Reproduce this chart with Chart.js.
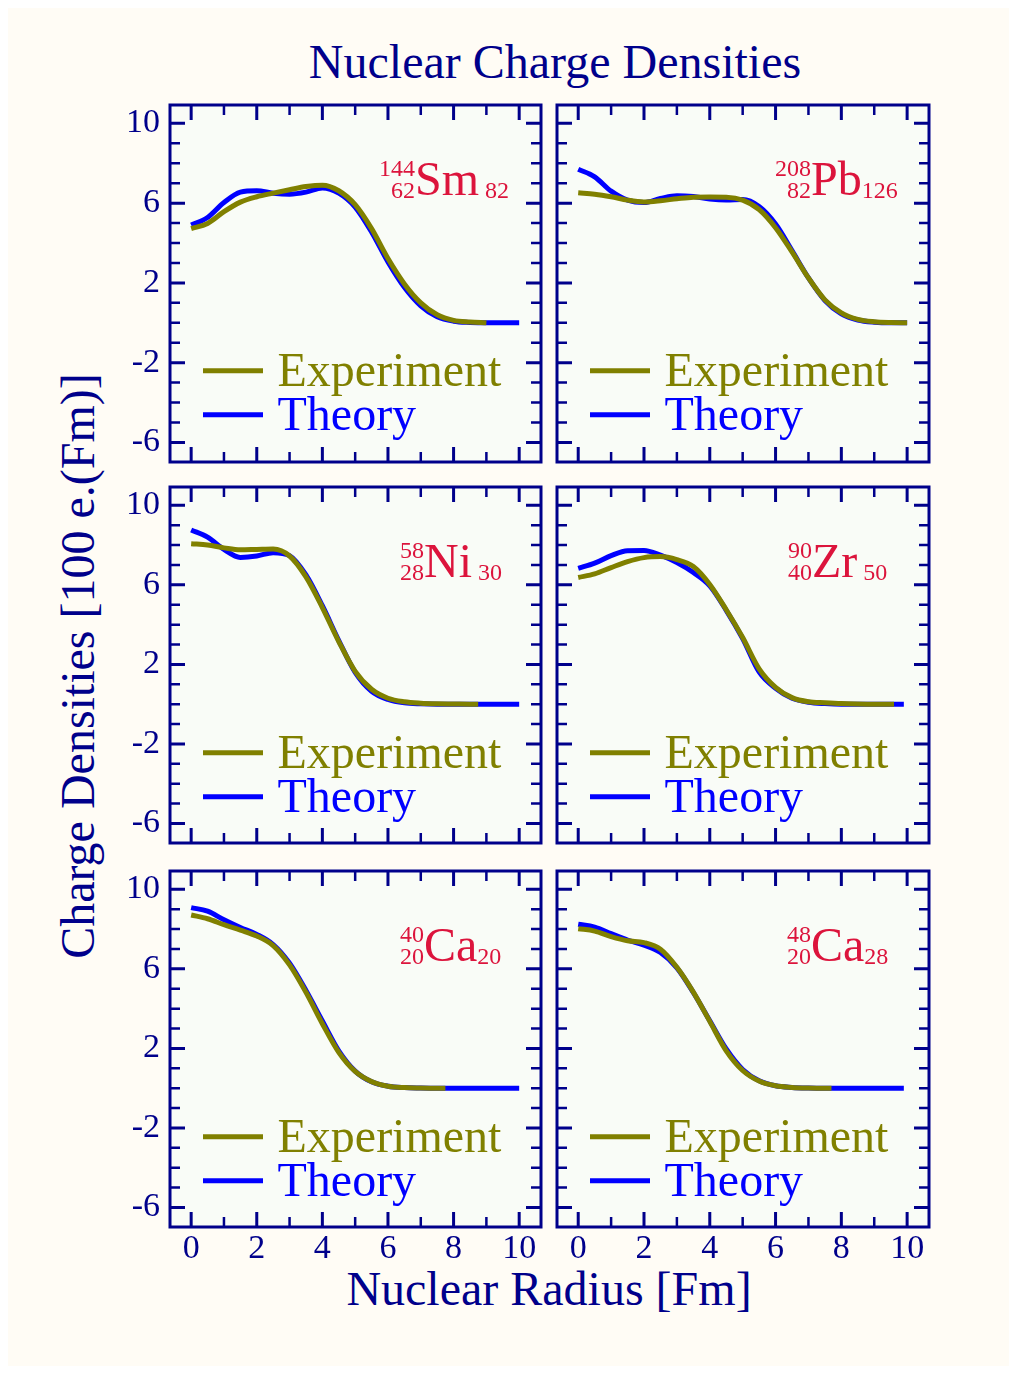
<!DOCTYPE html>
<html>
<head>
<meta charset="utf-8">
<title>Nuclear Charge Densities</title>
<script src="https://cdn.jsdelivr.net/npm/chart.js@4.4.0/dist/chart.umd.min.js"></script>
<style>
  html, body { margin: 0; padding: 0; background: #ffffff; }
  #page { position: relative; width: 1017px; height: 1374px; overflow: hidden;
          font-family: 'Liberation Serif', 'Times New Roman', serif; color: #00008b; }
  #paper { position: absolute; left: 8px; top: 8px; width: 1001px; height: 1358px; background: #fffcf5; }
  .caption { position: absolute; font-size: 48px; line-height: 48px; white-space: nowrap; }
  #mainTitle { left: 555px; top: 38px; transform: translateX(-50%); }
  #xTitle { left: 549px; top: 1265px; transform: translateX(-50%); }
  #yTitle { left: 78px; top: 666px; transform: translate(-50%, -50%) rotate(-90deg); }
  canvas { position: absolute; }
</style>
</head>
<body>
<div id="page">
  <div id="paper"></div>
  <div class="caption" id="mainTitle">Nuclear Charge Densities</div>
  <div class="caption" id="xTitle">Nuclear Radius [Fm]</div>
  <div class="caption" id="yTitle">Charge Densities [100 e.(Fm)]</div>
</div>
<script>
// Radius grid in Fm, shared by all curves
var radius = [0, 0.5, 1, 1.5, 2, 2.5, 3, 3.5, 4, 4.5, 5, 5.5, 6, 6.5, 7, 7.5, 8, 8.5, 9, 9.5, 10];

var massNumbers = ['144', '208', '58', '90', '40', '48'];
var protonNumbers = ['62', '82', '28', '40', '20', '20'];
var symbols = ['Sm', 'Pb', 'Ni', 'Zr', 'Ca', 'Ca'];
var neutronNumbers = [' 82', '126', ' 30', ' 50', '20', '28'];

var seriesNames = ['Experiment', 'Theory'];
var xTickLabels = [0, 2, 4, 6, 8, 10];
var yTickLabels = [-6, -2, 2, 6, 10];

// last radius of each curve (the last value of each array sits there)
var experimentEnd = [9.0, 10, 8.75, 9.6, 7.75, 7.7];
var theoryEnd = [10, 10, 10, 9.9, 10, 9.9];

var smExperiment = [4.72, 4.98, 5.57, 6.05, 6.32, 6.5, 6.67, 6.83, 6.9, 6.62, 5.92, 4.72, 3.22, 1.95, 1.0, 0.4, 0.12, 0.04, 0];
var smTheory = [4.9, 5.28, 6.03, 6.55, 6.62, 6.5, 6.45, 6.55, 6.76, 6.5, 5.8, 4.55, 3.05, 1.78, 0.85, 0.3, 0.08, 0.02, 0, 0, 0];

var pbExperiment = [6.52, 6.45, 6.32, 6.15, 6.06, 6.12, 6.22, 6.3, 6.31, 6.3, 6.15, 5.68, 4.77, 3.55, 2.25, 1.15, 0.5, 0.17, 0.05, 0.01, 0];
var pbTheory = [7.7, 7.32, 6.6, 6.15, 6.03, 6.23, 6.37, 6.33, 6.21, 6.16, 6.18, 5.83, 4.95, 3.62, 2.25, 1.12, 0.45, 0.14, 0.03, 0, 0];

var niExperiment = [8.07, 8.0, 7.86, 7.76, 7.78, 7.8, 7.45, 6.4, 4.86, 3.15, 1.65, 0.75, 0.3, 0.12, 0.05, 0.02, 0.01, 0, 0];
var niTheory = [8.76, 8.4, 7.78, 7.38, 7.45, 7.62, 7.47, 6.5, 4.95, 3.2, 1.6, 0.65, 0.24, 0.07, 0.02, 0, 0, 0, 0, 0, 0];

var zrExperiment = [6.37, 6.55, 6.87, 7.17, 7.37, 7.42, 7.27, 6.92, 6.02, 4.75, 3.35, 1.78, 0.85, 0.33, 0.12, 0.07, 0.03, 0.01, 0, 0, 0];
var zrTheory = [6.83, 7.09, 7.47, 7.72, 7.73, 7.49, 7.12, 6.62, 5.95, 4.72, 3.3, 1.62, 0.8, 0.3, 0.1, 0.03, 0, 0, 0, 0, 0];

var ca40Experiment = [8.71, 8.52, 8.22, 7.95, 7.65, 7.17, 6.2, 4.82, 3.24, 1.8, 0.84, 0.33, 0.1, 0.03, 0.01, 0, 0];
var ca40Theory = [9.08, 8.9, 8.47, 8.08, 7.73, 7.22, 6.28, 4.91, 3.38, 1.88, 0.86, 0.32, 0.1, 0.03, 0.01, 0, 0, 0, 0, 0, 0];

var ca48Experiment = [8.02, 7.9, 7.62, 7.41, 7.32, 6.99, 6.08, 4.83, 3.36, 1.88, 0.89, 0.36, 0.12, 0.04, 0.01, 0, 0];
var ca48Theory = [8.24, 8.1, 7.77, 7.45, 7.19, 6.82, 6.05, 4.81, 3.39, 1.97, 0.94, 0.37, 0.12, 0.04, 0.01, 0, 0, 0, 0, 0, 0];

var experiment = [smExperiment, pbExperiment, niExperiment, zrExperiment, ca40Experiment, ca48Experiment];
var theory = [smTheory, pbTheory, niTheory, zrTheory, ca40Theory, ca48Theory];

// Layout (pixels on the page)
var NAVY = '#00008b';
var PLOT_BG = '#f9fcf7';
var LABEL_RED = '#dc143c';
var EXP_COLOR = '#808000';
var TH_COLOR = '#0000ff';
var FONT = "'Liberation Serif', 'Times New Roman', serif";

var colLeft = [170, 557];
var colWidth = [371, 372];
var rowTop = [105, 487, 871];
var rowHeight = [357, 356, 356];
var labelOffset = [245, 254, 254, 255, 254, 254];

// generous top/right padding so tick labels never push the plot area
var AXIS_W = 62, AXIS_H = 50, PAD_T = 44, PAD_R = 24, PAD_B = 4;

Chart.defaults.font.family = FONT;

function toPoints(values, end) {
    var pts = [];
    for (var i = 0; i < values.length - 1; i++) {
        pts.push({x: radius[i], y: values[i]});
    }
    pts.push({x: end, y: values[values.length - 1]});
    return pts;
}

var decorations = {
    id: 'decorations',
    beforeDatasetsDraw: function(chart) {
        var a = chart.chartArea, ctx = chart.ctx;
        ctx.save();
        ctx.fillStyle = PLOT_BG;
        ctx.fillRect(a.left, a.top, a.right - a.left, a.bottom - a.top);
        ctx.restore();
    },
    afterDatasetsDraw: function(chart, args, opts) {
        var a = chart.chartArea, ctx = chart.ctx;
        var i = opts.index;
        var xs = chart.scales.x, ys = chart.scales.y;
        ctx.save();

        // legend
        var colors = [EXP_COLOR, TH_COLOR];
        var lineY = [265.7, 309.7], textY = [281, 325];
        for (var k = 0; k < 2; k++) {
            ctx.strokeStyle = colors[k];
            ctx.lineWidth = 5;
            ctx.beginPath();
            ctx.moveTo(a.left + 33, a.top + lineY[k]);
            ctx.lineTo(a.left + 93, a.top + lineY[k]);
            ctx.stroke();
            ctx.fillStyle = colors[k];
            ctx.font = '48px ' + FONT;
            ctx.textAlign = 'left';
            ctx.textBaseline = 'alphabetic';
            ctx.fillText(seriesNames[k], a.left + 107.5, a.top + textY[k]);
        }

        // nucleus label
        var x0 = a.left + labelOffset[i];
        ctx.fillStyle = LABEL_RED;
        ctx.font = '24px ' + FONT;
        ctx.textAlign = 'right';
        ctx.fillText(massNumbers[i], x0, a.top + 70.5);
        ctx.fillText(protonNumbers[i], x0, a.top + 93);
        ctx.font = '48px ' + FONT;
        ctx.textAlign = 'left';
        ctx.fillText(symbols[i], x0, a.top + 90);
        var w = ctx.measureText(symbols[i]).width;
        ctx.font = '24px ' + FONT;
        ctx.fillText(neutronNumbers[i], x0 + w, a.top + 93);

        // tick marks on all four sides, pointing in
        ctx.strokeStyle = NAVY;
        var v, p, len;
        for (v = -6; v <= 10; v++) {
            p = ys.getPixelForValue(v);
            len = yTickLabels.indexOf(v) >= 0 ? 15 : 10;
            ctx.lineWidth = yTickLabels.indexOf(v) >= 0 ? 3 : 2.5;
            ctx.beginPath();
            ctx.moveTo(a.left, p); ctx.lineTo(a.left + len, p);
            ctx.moveTo(a.right, p); ctx.lineTo(a.right - len, p);
            ctx.stroke();
        }
        for (v = 0; v <= 10; v++) {
            p = xs.getPixelForValue(v);
            len = xTickLabels.indexOf(v) >= 0 ? 15 : 10;
            ctx.lineWidth = xTickLabels.indexOf(v) >= 0 ? 3 : 2.5;
            ctx.beginPath();
            ctx.moveTo(p, a.top); ctx.lineTo(p, a.top + len);
            ctx.moveTo(p, a.bottom); ctx.lineTo(p, a.bottom - len);
            ctx.stroke();
        }

        // frame
        ctx.lineWidth = 3;
        ctx.strokeRect(a.left, a.top, a.right - a.left, a.bottom - a.top);
        ctx.restore();
    }
};

function makePanel(i) {
    var col = i % 2, row = Math.floor(i / 2);
    var canvas = document.createElement('canvas');
    canvas.width = AXIS_W + colWidth[col] + PAD_R;
    canvas.height = PAD_T + rowHeight[row] + AXIS_H + PAD_B;
    canvas.style.left = (colLeft[col] - AXIS_W) + 'px';
    canvas.style.top = (rowTop[row] - PAD_T) + 'px';
    document.getElementById('page').appendChild(canvas);

    var showX = row === 2, showY = col === 0;

    new Chart(canvas.getContext('2d'), {
        type: 'line',
        data: {
            datasets: [
                {
                    label: seriesNames[0],
                    data: toPoints(experiment[i], experimentEnd[i]),
                    borderColor: EXP_COLOR,
                    borderWidth: 5,
                    pointRadius: 0,
                    fill: false,
                    cubicInterpolationMode: 'monotone'
                },
                {
                    label: seriesNames[1],
                    data: toPoints(theory[i], theoryEnd[i]),
                    borderColor: TH_COLOR,
                    borderWidth: 5,
                    pointRadius: 0,
                    fill: false,
                    cubicInterpolationMode: 'monotone'
                }
            ]
        },
        options: {
            responsive: false,
            animation: false,
            devicePixelRatio: 1,
            layout: { padding: { top: PAD_T, right: PAD_R, bottom: PAD_B, left: 0 } },
            plugins: {
                legend: { display: false },
                tooltip: { enabled: false },
                decorations: { index: i }
            },
            scales: {
                x: {
                    type: 'linear',
                    min: -0.645,
                    max: 10.665,
                    grid: { display: false, drawTicks: false },
                    border: { display: false },
                    ticks: { display: showX, color: NAVY, font: { size: 34, family: FONT }, padding: 2, maxRotation: 0 },
                    afterBuildTicks: function(scale) {
                        scale.ticks = xTickLabels.map(function(t) { return {value: t}; });
                    },
                    afterFit: function(scale) { scale.height = AXIS_H; }
                },
                y: {
                    type: 'linear',
                    min: -6.98,
                    max: 10.92,
                    grid: { display: false, drawTicks: false },
                    border: { display: false },
                    ticks: { display: showY, color: NAVY, font: { size: 34, family: FONT }, padding: 10 },
                    afterBuildTicks: function(scale) {
                        scale.ticks = yTickLabels.map(function(t) { return {value: t}; });
                    },
                    afterFit: function(scale) { scale.width = AXIS_W; }
                }
            }
        },
        plugins: [decorations]
    });
}

for (var n = 0; n < 6; n++) {
    makePanel(n);
}
</script>
</body>
</html>
